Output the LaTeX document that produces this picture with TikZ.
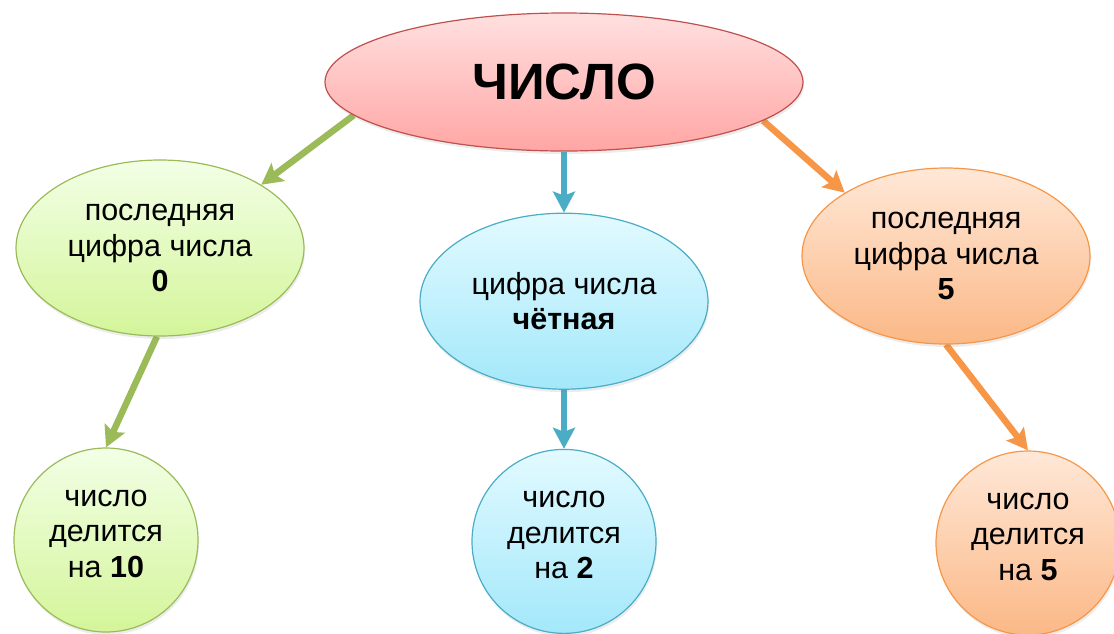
\documentclass[tikz,border=0pt]{standalone}
\usepackage{fontspec}
\setmainfont{Liberation Sans}
\usetikzlibrary{arrows.meta}
\usetikzlibrary{positioning}
\usetikzlibrary{shapes.geometric}
\usetikzlibrary{shadows}
\usetikzlibrary{backgrounds}

\definecolor{redline}{HTML}{C0504D}
\definecolor{redtop}{HTML}{FFE0E0}
\definecolor{redbot}{HTML}{FFA6A4}
\definecolor{grline}{HTML}{9BBB59}
\definecolor{grtop}{HTML}{F2FFE6}
\definecolor{grbot}{HTML}{D4F59A}
\definecolor{blline}{HTML}{4BACC6}
\definecolor{bltop}{HTML}{E2FAFF}
\definecolor{blbot}{HTML}{A3E8FA}
\definecolor{orline}{HTML}{F79646}
\definecolor{ortop}{HTML}{FFE8D8}
\definecolor{orbot}{HTML}{FBB886}

\begin{document}
\begin{tikzpicture}[
        x=1pt, y=1pt,
        node distance=60pt,
        bubble/.style={ellipse, line width=1.2pt, align=center, inner sep=0pt,
            font=\fontsize{30.5}{35.5}\selectfont,
            drop shadow={opacity=0.15, shadow xshift=1pt, shadow yshift=-3pt}},
        redfill/.style={draw=redline, top color=redtop, bottom color=redbot},
        grfill/.style={draw=grline, top color=grtop, bottom color=grbot},
        blfill/.style={draw=blline, top color=bltop, bottom color=blbot},
        orfill/.style={draw=orline, top color=ortop, bottom color=orbot},
        topell/.style={bubble, redfill, minimum width=478pt, minimum height=138pt,
            font=\fontsize{51}{60}\selectfont\bfseries},
        sideell/.style={bubble, minimum width=288pt, minimum height=176pt},
        roundell/.style={bubble, circle, minimum size=184pt, text depth=13pt},
        arrow/.style={-{Stealth[length=21pt, width=22pt, inset=4pt]}, line width=6.5pt}
        ]

        \useasboundingbox (0,0) rectangle (1114,-633);

        % Nodes
        \node (chislo) [topell] at (564,-82) {ЧИСЛО};
        \node (last0)  [sideell, grfill] at (160,-248) {последняя\\цифра числа\\\textbf{0}};
        \node (even)   [sideell, blfill, below=61pt of chislo] {цифра числа\\\textbf{чётная}};
        \node (last5)  [sideell, orfill] at (946,-256) {последняя\\цифра числа\\\textbf{5}};
        \node (div10)  [roundell, grfill] at (106,-540) {число\\делится\\на \textbf{10}};
        \node (div2)   [roundell, blfill, below=59pt of even] {число\\делится\\на \textbf{2}};
        \node (div5)   [roundell, orfill] at (1028,-543) {число\\делится\\на \textbf{5}};

        % Arrows behind the bubbles
        \begin{scope}[on background layer]
            \draw[arrow, grline] (chislo.189) -- (last0.32);
            \draw[arrow, grline] (last0.268)  -- (div10.90);
            \draw[arrow, blline] (chislo.south) -- (even.north);
            \draw[arrow, blline] (even.south)   -- (div2.north);
            \draw[arrow, orline] (chislo.349) -- (last5.148);
            \draw[arrow, orline] (last5.270)  -- (div5.90);
        \end{scope}

    \end{tikzpicture}
\end{document}
